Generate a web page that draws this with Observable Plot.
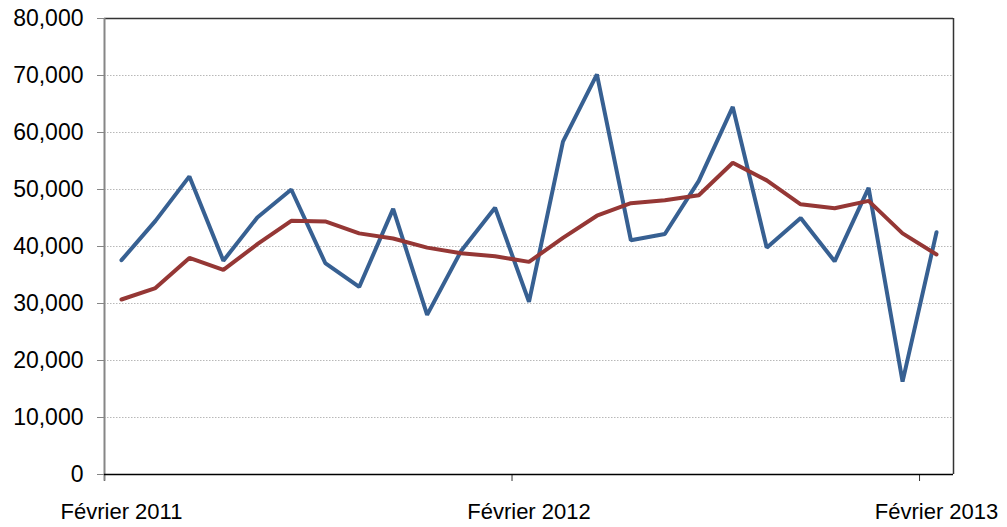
<!DOCTYPE html>
<html><head><meta charset="utf-8">
<script src="https://cdn.jsdelivr.net/npm/d3@7"></script>
<script src="https://cdn.jsdelivr.net/npm/@observablehq/plot@0.6"></script>
<style>body{margin:0;background:#fff} svg{display:block}</style>
</head><body><div id="chart"></div>
<script>
const months = ["2011-02","2011-03","2011-04","2011-05","2011-06","2011-07","2011-08","2011-09","2011-10","2011-11","2011-12","2012-01",
  "2012-02","2012-03","2012-04","2012-05","2012-06","2012-07","2012-08","2012-09","2012-10","2012-11","2012-12","2013-01","2013-02"];
const monthly = [37600,44500,52300,37500,45100,50000,37100,32900,46600,28000,39200,46800,
  30300,58400,70200,41100,42200,51500,64500,39800,45000,37400,50300,16300,42500];
const trend = [30700,32700,38000,35900,40400,44500,44400,42300,41400,39800,38800,38300,
  37300,41500,45400,47600,48100,49000,54700,51600,47400,46700,48000,42300,38600];
const yTicks = [0,10000,20000,30000,40000,50000,60000,70000,80000];
const xLabels = ["Février 2011","Février 2012","Février 2013"];
const labelIdx = [0,12,24];

const rowsA = months.map((m,i)=>({pos:i+0.5, month:m, value:monthly[i]}));
const rowsB = months.map((m,i)=>({pos:i+0.5, month:m, value:trend[i]}));
const fmt = d3.format(",");

const chart = Plot.plot({
  width:1007, height:527,
  marginLeft:104, marginRight:54, marginTop:18, marginBottom:53,
  style:{fontFamily:"'Liberation Sans', Arial, sans-serif", fontSize:"22px", color:"#000", background:"#fff"},
  x:{type:"linear", domain:[0, months.length], axis:null},
  y:{domain:[0,80000], axis:null},
  marks:[
    Plot.gridY(yTicks.filter(d=>d>0 && d<80000), {stroke:"#b8b8b8", strokeOpacity:1, strokeDasharray:"1.5,1.5"}),
    Plot.ruleY([80000], {stroke:"#333", strokeWidth:1.5}),
    Plot.ruleX([months.length], {stroke:"#333", strokeWidth:1.5}),
    Plot.axisY(yTicks, {tickSize:7, tickPadding:14, tickFormat:fmt, stroke:"#868686", fill:"#000", fontSize:23, label:null}),
    Plot.axisX(labelIdx, {tickSize:7, tickFormat:()=>"", stroke:"#333", label:null}),
    Plot.axisX(labelIdx.map(i=>i+0.5), {tickSize:0, tickPadding:29, tickFormat:d=>xLabels[labelIdx.indexOf(d-0.5)], fill:"#000", label:null}),
    Plot.ruleX([0], {y1:-1200, y2:80000, stroke:"#868686", strokeWidth:2}),
    Plot.ruleY([0], {stroke:"#000", strokeWidth:1.5}),
    Plot.lineY(rowsA, {x:"pos", y:"value", stroke:"#376092", strokeWidth:4, strokeLinejoin:"miter"}),
    Plot.lineY(rowsB, {x:"pos", y:"value", stroke:"#953735", strokeWidth:4, strokeLinejoin:"miter"})
  ]
});
document.getElementById("chart").appendChild(chart);
</script>
</body></html>
